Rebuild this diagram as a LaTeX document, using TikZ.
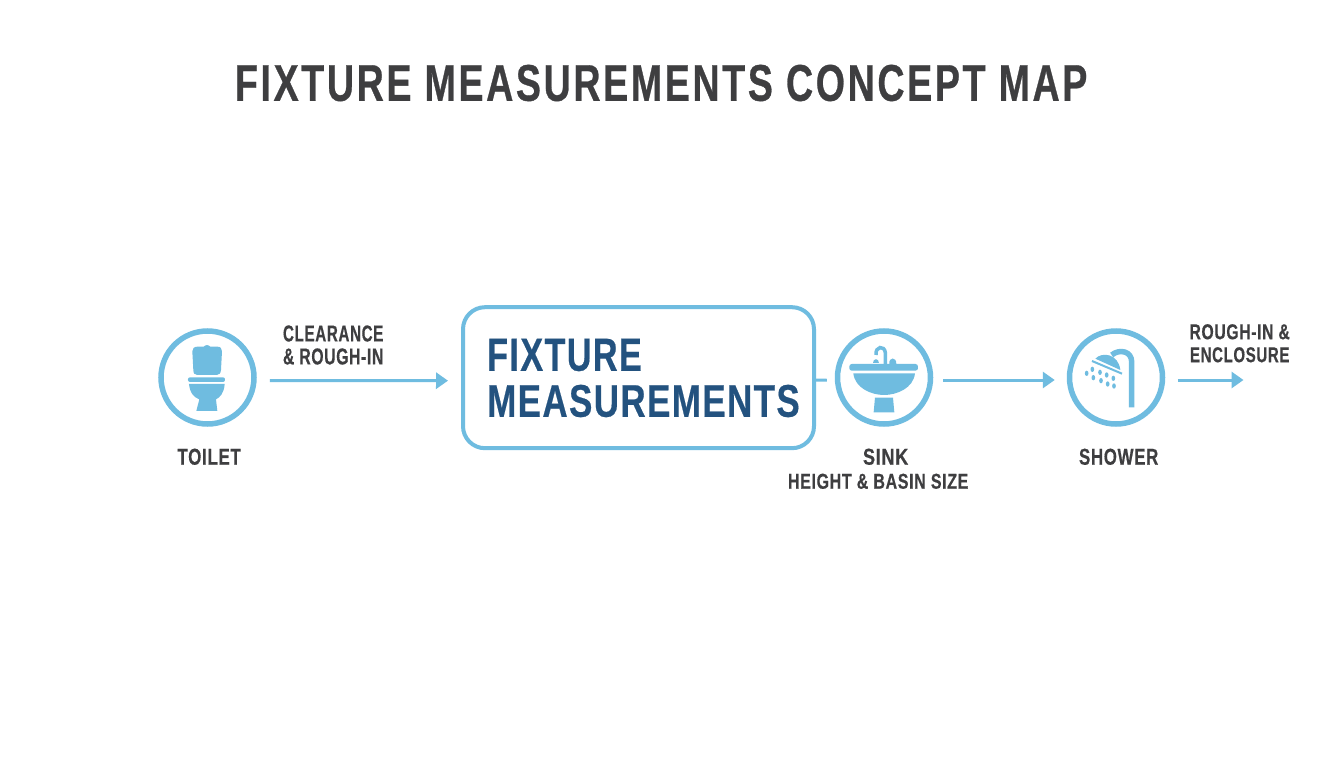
\documentclass[tikz,border=0pt]{standalone}
\usepackage{fontspec}
\usepackage{graphicx}
\setmainfont{Liberation Sans}
\usetikzlibrary{arrows.meta}
\definecolor{sky}{HTML}{6FBCE0}
\definecolor{ink}{HTML}{3E3E40}
\definecolor{navy}{HTML}{23527F}
\newcommand{\fit}[3]{\resizebox{#1pt}{#2pt}{\addfontfeatures{LetterSpace=4,FakeBold=0.5}\textbf{#3}}}
\newcommand{\fitwide}[3]{\resizebox{#1pt}{#2pt}{\addfontfeatures{LetterSpace=7,FakeBold=0.7}\textbf{#3}}}
\tikzset{
  ring/.style={circle,draw=sky,line width=5.5pt,minimum size=93pt,inner sep=0pt},
  flow/.style={draw=sky,line width=3pt,-{Triangle[length=12pt,width=16pt]}},
  stub/.style={draw=sky,line width=3pt},
  label/.style={text=ink,inner sep=0pt,align=center,font=\fontsize{16}{23}\selectfont},
  lefttext/.style={text=navy,inner sep=0pt,align=left,anchor=west,font=\fontsize{30}{46}\selectfont},
  icon/.style={fill=sky,draw=none}
}
\begin{document}
\begin{tikzpicture}[x=1pt,y=-1pt]
\useasboundingbox (0,0) rectangle (1344,768);
\fill[white] (0,0) rectangle (1344,768);
% title
\node[text=ink,inner sep=0pt] (title) at (662.5,83) {\fitwide{855}{36}{FIXTURE MEASUREMENTS CONCEPT MAP}};
% main box
\node[draw=sky,line width=4pt,rounded corners=22pt,minimum width=351pt,minimum height=141pt,inner sep=0pt] (box) at (638.5,377.7) {};
\node[lefttext] (boxtext) at (487,378) {\fit{156}{32}{FIXTURE}\\\fit{314}{32}{MEASUREMENTS}};
% rings
\node[ring] (toilet) at (207.5,377.5) {};
\node[ring] (sink) at (884,377.5) {};
\node[ring] (shower) at (1116,377.5) {};
\coordinate (freeend) at (1243.5,380);
% connectors
\draw[flow,shorten <=13pt,shorten >=13pt] ([yshift=-3pt]toilet.east) -- ([yshift=-3pt]box.west);
\draw[stub,shorten >=8pt] ([yshift=-2.5pt]box.east) -- ([yshift=-2.5pt]sink.west);
\draw[flow,shorten <=10pt,shorten >=12pt] ([yshift=-2.5pt]sink.east) -- ([yshift=-2.5pt]shower.west);
\draw[flow,shorten <=12.5pt] (shower.east |- freeend) -- (freeend);
% labels
\node[label] (lab1) at (333.5,345) {\fit{101}{16}{CLEARANCE}\\\fit{101}{16}{\&\ ROUGH-IN}};
\node[label] (lab2) at (209.5,456.8) {\fit{64}{16}{TOILET}};
\node[label] (lab3) at (886,456.8) {\fit{46}{16}{SINK}};
\node[label] (lab4) at (878.5,481.3) {\fit{181}{15}{HEIGHT \&\ BASIN SIZE}};
\node[label] (lab5) at (1119,456.8) {\fit{80}{16}{SHOWER}};
\node[label] (lab6) at (1240,343.3) {\fit{101}{15}{ROUGH-IN \&}\\\fit{100}{15}{ENCLOSURE}};
% toilet icon
\begin{scope}[shift={(140,310)},x=0.3333pt,y=-0.3333pt]
\fill[icon] (190,112) .. controls (195,103) and (207,103) .. (212,112) -- cycle;
\fill[icon] (172,110) -- (232,110) .. controls (242,110) and (246,116) .. (246,124)
  -- (243,180) .. controls (242,190) and (238,195) .. (230,195) -- (172,195)
  .. controls (164,195) and (160,190) .. (160,180) -- (157,124) .. controls (157,116) and (162,110) .. (172,110) -- cycle;
\fill[icon,rounded corners=2pt] (144,202) rectangle (255,216);
\fill[icon] (147,222) -- (254,222) .. controls (252,250) and (240,262) .. (228,268)
  -- (232,303) -- (169,303) -- (178,268) .. controls (162,262) and (150,250) .. (147,222) -- cycle;
\end{scope}
% sink icon
\begin{scope}[shift={(780,310)},x=0.3333pt,y=-0.3333pt]
\draw[sky,line width=3.5pt] (288,135) .. controls (285,108) and (314,105) .. (316,128) -- (316,162);
\fill[icon] (278,158) .. controls (278,144) and (298,144) .. (298,158) -- cycle;
\fill[icon] (328,162) .. controls (326,140) and (350,140) .. (349,162) -- cycle;
\fill[icon,rounded corners=2.5pt] (208,162) rectangle (414,182);
\fill[icon] (220,190) -- (405,190) .. controls (400,235) and (350,255) .. (312,255)
  .. controls (275,255) and (225,235) .. (220,190) -- cycle;
\fill[icon] (285,263) -- (339,263) -- (343,307) -- (281,307) -- cycle;
\end{scope}
% shower icon
\begin{scope}[shift={(1040,310)},x=0.3333pt,y=-0.3333pt]
\draw[sky,line width=5.5pt] (275,292) -- (275,155) .. controls (275,125) and (240,115) .. (215,135);
\fill[icon] (166,146) .. controls (185,125) and (235,130) .. (241,180) -- cycle;
\draw[sky,line width=2pt] (156,153) -- (246,191);
\foreach \p/\q in {140/190,157/178,160/203,180/187,183/212,200/195,203/222,220/205,222/228}{
  \fill[icon] (\p,\q) ellipse [x radius=5.5,y radius=8];
}
\end{scope}
\end{tikzpicture}
\end{document}
